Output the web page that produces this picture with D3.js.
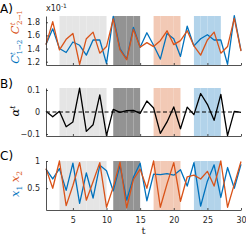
<!DOCTYPE html>
<html>
<head>
<meta charset="utf-8">
<script src="https://cdn.jsdelivr.net/npm/d3@7"></script>
<style>
  body { margin: 0; background: #fff; }
  svg { display: block; }
</style>
</head>
<body>
<svg id="chart" width="246" height="241"></svg>
<script>
// time steps
const steps = d3.range(1, 31);

// panel A: C^t_{1->2} (blue) and C^t_{2->1} (orange), x10^-1
const c12 = [1.46, 1.70, 1.40, 1.34, 1.50, 1.45, 1.30, 1.53, 1.53, 1.17,
             1.89, 1.40, 1.24, 1.72, 1.42, 1.64, 1.45, 1.24, 1.63, 1.55,
             1.28, 1.74, 1.44, 1.55, 1.61, 1.53, 1.53, 1.16, 1.90, 1.37];
const c21 = [1.46, 1.81, 1.38, 1.54, 1.63, 1.16, 1.55, 1.65, 1.33, 1.43,
             1.85, 1.38, 1.23, 1.69, 1.42, 1.49, 1.43, 1.52, 1.67, 1.46,
             1.52, 1.67, 1.44, 1.30, 1.53, 1.65, 1.33, 1.43, 1.86, 1.36];

// panel B: alpha^t
const alpha = [0.003, -0.022, 0.003, -0.067, -0.045, 0.108, -0.088, -0.058, 0.078, -0.107,
               0.012, -0.002, 0.006, 0.007, -0.006, 0.050, 0.018, -0.097, -0.045, 0.023,
               -0.076, 0.022, -0.012, 0.084, 0.035, -0.038, 0.080, -0.107, 0.003, -0.002];

// panel C: x1 (blue) and x2 (orange)
const x1 = [0.85, 0.67, 0.86, 0.46, 0.96, 0.22, 0.78, 0.32, 0.92, 0.82,
            0.45, 0.92, 0.28, 0.70, 0.96, 0.27, 0.76, 0.75, 0.77, 0.74,
            0.84, 0.54, 0.97, 0.17, 0.63, 0.93, 0.33, 0.88, 0.50, 0.94];
const x2 = [0.86, 0.50, 1.00, 0.18, 0.55, 0.97, 0.28, 0.62, 0.97, 0.15,
            0.52, 0.98, 0.14, 0.66, 0.85, 0.50, 1.00, 0.15, 0.58, 0.97,
            0.26, 0.71, 0.74, 0.67, 0.81, 0.54, 1.00, 0.15, 0.57, 0.99];

// shaded intervals
const shadeFrom = [3, 11, 17, 23];
const shadeTo = [10, 15, 21, 27];
const shadeColor = ['#e5e5e5', '#939393', '#f2c9b5', '#b2d3ea'];

const xTicks = [5, 10, 15, 20, 25, 30];
const ticksA = [1.2, 1.4, 1.6, 1.8];
const ticksB = [-0.1, 0, 0.1];
const ticksC = [0.5, 1];

const blue = '#0072bd', orange = '#d95319', axisCol = '#262626';
const svg = d3.select('#chart');
const x = d3.scaleLinear().domain([1, 30]).range([46, 241]);

const panels = [
  { name: 'A)', top: 16, bottom: 65, domain: [1.15, 1.895], ticks: ticksA, fmt: d3.format('.1f'),
    series: [[c12, blue], [c21, orange]], labelY: 13 },
  { name: 'B)', top: 88, bottom: 136, domain: [-0.109, 0.109], ticks: ticksB, fmt: d => d === 0 ? '0' : d3.format('.1f')(d),
    series: [[alpha, '#000']], labelY: 88 },
  { name: 'C)', top: 161, bottom: 210, domain: [0.1, 1.0], ticks: ticksC, fmt: d => d === 1 ? '1' : String(d),
    series: [[x1, blue], [x2, orange]], labelY: 160 }
];

panels.forEach(function(p, pi) {
  const y = d3.scaleLinear().domain(p.domain).range([p.bottom, p.top]);
  const g = svg.append('g');

  // shading, one patch per time step
  shadeFrom.forEach(function(s, i) {
    g.selectAll(null)
      .data(d3.range(s, shadeTo[i]))
      .enter().append('rect')
      .attr('x', d => x(d))
      .attr('width', d => x(d + 1) - x(d))
      .attr('y', p.top)
      .attr('height', p.bottom - p.top)
      .attr('fill', shadeColor[i]);
  });

  if (pi === 1) {
    g.append('line')
      .attr('x1', x(1)).attr('x2', x(30))
      .attr('y1', y(0)).attr('y2', y(0))
      .attr('stroke', '#000').attr('stroke-width', 1)
      .attr('stroke-dasharray', '4,2.5');
  }

  const line = d3.line().x((d, i) => x(steps[i])).y(d => y(d));
  p.series.forEach(function(s) {
    g.append('path')
      .attr('d', line(s[0]))
      .attr('fill', 'none')
      .attr('stroke', s[1])
      .attr('stroke-width', 1.3)
      .attr('stroke-linejoin', 'round');
  });

  const ax = g.append('g')
    .attr('transform', 'translate(0,' + p.bottom + ')')
    .call(d3.axisBottom(x).tickValues(xTicks).tickSizeInner(-2).tickSizeOuter(0).tickPadding(7));
  if (pi !== 2) ax.selectAll('text').remove();

  const ay = g.append('g')
    .attr('transform', 'translate(' + x(1) + ',0)')
    .call(d3.axisLeft(y).tickValues(p.ticks).tickFormat(p.fmt).tickSizeInner(-2).tickSizeOuter(0).tickPadding(6));

  [ax, ay].forEach(function(a) {
    a.select('.domain').attr('stroke', axisCol).attr('stroke-width', 0.8);
    a.selectAll('line').attr('stroke', axisCol).attr('stroke-width', 0.8);
    a.selectAll('text').attr('font-family', 'DejaVu Sans').attr('font-size', 8).attr('fill', axisCol);
  });

  svg.append('text')
    .attr('x', 0).attr('y', p.labelY)
    .attr('font-family', 'DejaVu Sans').attr('font-size', 12)
    .attr('fill', '#000')
    .text(p.name);
});

// exponent note for panel A
const ex = svg.append('text').attr('x', 46).attr('y', 11)
  .attr('font-family', 'DejaVu Sans').attr('font-size', 8).attr('fill', axisCol);
ex.append('tspan').text('x10');
ex.append('tspan').attr('dy', -3).attr('font-size', 6).text('-1');

// rotated y labels
function mathLabel(cx, cy, parts) {
  const t = svg.append('text')
    .attr('transform', 'translate(' + cx + ',' + cy + ') rotate(-90)')
    .attr('text-anchor', 'middle')
    .attr('font-family', 'DejaVu Serif').attr('font-style', 'italic')
    .attr('font-size', 11.5);
  parts.forEach(function(q) {
    const s = t.append('tspan').attr('fill', q.c).text(q.s);
    if (q.fs) s.attr('font-size', q.fs);
    if (q.dy) s.attr('dy', q.dy);
    if (q.dx) s.attr('dx', q.dx);
    if (q.up) s.attr('font-style', 'normal');
  });
}

mathLabel(19, 37, [
  { s: 'C', c: blue },
  { s: 't', c: blue, fs: 7, dy: -4.5 },
  { s: '1→2', c: blue, fs: 7, dy: 7.5, dx: -2.5, up: true },
  { s: ' C', c: orange, dy: -3, dx: 2 },
  { s: 't', c: orange, fs: 7, dy: -4.5 },
  { s: '2→1', c: orange, fs: 7, dy: 7.5, dx: -2.5, up: true }
]);

mathLabel(19, 111, [
  { s: 'α', c: '#000' },
  { s: 't', c: '#000', fs: 7.5, dy: -4.5 }
]);

mathLabel(19, 184, [
  { s: 'x', c: blue },
  { s: '1', c: blue, fs: 7.5, dy: 3, up: true },
  { s: ' x', c: orange, dy: -3 },
  { s: '2', c: orange, fs: 7.5, dy: 3, up: true }
]);

// x label
svg.append('text')
  .attr('x', (x(1) + x(30)) / 2).attr('y', 234)
  .attr('text-anchor', 'middle')
  .attr('font-family', 'DejaVu Serif').attr('font-size', 10)
  .attr('fill', axisCol)
  .text('t');
</script>
</body>
</html>
